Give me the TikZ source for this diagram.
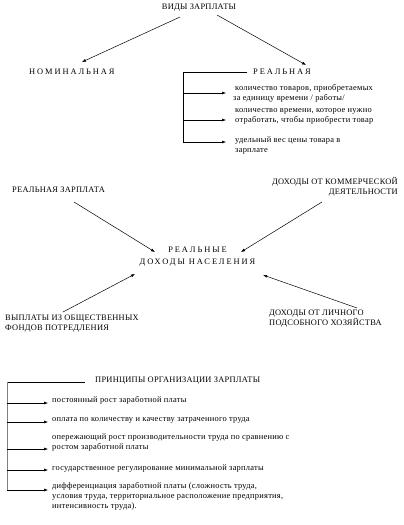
\documentclass[tikz,border=0pt]{standalone}
\usepackage{fontspec}
\setmainfont{Liberation Serif}
\newfontfamily\spaced[LetterSpace=23]{Liberation Serif}
\newfontfamily\lsp[LetterSpace=3]{Liberation Serif}
\usetikzlibrary{arrows.meta}
\begin{document}
\begin{tikzpicture}[x=1pt,y=-1pt,
  txt/.style={inner sep=0pt,font=\lsp\fontsize{8.4}{10}\selectfont,align=left},
  sp/.style={inner sep=0pt,font=\spaced\fontsize{8.4}{12}\selectfont,align=center},
  conn/.style={line width=0.5pt,-{Latex[length=4pt,width=3pt]}},
  ln/.style={line width=0.5pt}]
\useasboundingbox (0,0) rectangle (404,525);
% top
\node[txt] (vid) at (199,8) {ВИДЫ ЗАРПЛАТЫ};
\node[sp,anchor=west] (nom) at (29,71.5) {НОМИНАЛЬНАЯ};
\node[sp,anchor=west] (real) at (253,71.5) {РЕАЛЬНАЯ};
\coordinate (v1) at (180,17);
\coordinate (v2) at (217,15);
\coordinate (n1) at (82,62);
\coordinate (r1) at (306,65);
\draw[conn] (v1) -- (n1);
\draw[conn] (v2) -- (r1);
\coordinate (b0) at (183,72.5);
\coordinate (b1) at (183,93);
\coordinate (b2) at (183,120);
\coordinate (b3) at (183,142);
\node[txt,anchor=north west] (t1) at (233,84) {\hspace*{2pt}количество товаров, приобретаемых\\за единицу времени / работы/};
\node[txt,anchor=north west] (t2) at (235,108) {количество времени, которое нужно\\отработать, чтобы приобрести товар};
\node[txt,anchor=north west] (t3) at (235,136.5) {удельный вес цены товара в\\зарплате};
\draw[ln] (real.west) ++(-6,1) coordinate (rl) -- (b0) -- (b3);
\draw[conn] (b1) -- ++(43,0) coordinate (e1);
\draw[conn] (b2) -- ++(43,0) coordinate (e2);
\draw[conn] (b3) -- ++(43,0) coordinate (e3);
% middle
\node[txt,anchor=west] (rz) at (12,189.5) {РЕАЛЬНАЯ ЗАРПЛАТА};
\node[txt,anchor=north east,align=right] (dk) at (398,177.5) {ДОХОДЫ ОТ КОММЕРЧЕСКОЙ\\ДЕЯТЕЛЬНОСТИ};
\node[sp,anchor=north] (rd) at (197.5,246.5) {РЕАЛЬНЫЕ\\ДОХОДЫ НАСЕЛЕНИЯ};
\node[txt,anchor=north west] (vy) at (5,315) {ВЫПЛАТЫ ИЗ ОБЩЕСТВЕННЫХ\\ФОНДОВ ПОТРЕДЛЕНИЯ};
\node[txt,anchor=north west] (dl) at (269,310) {ДОХОДЫ ОТ ЛИЧНОГО\\ПОДСОБНОГО ХОЗЯЙСТВА};
\coordinate (m1) at (74,202);
\coordinate (m2) at (155,252);
\coordinate (m3) at (322,202);
\coordinate (m4) at (241,252);
\coordinate (m5) at (63,312);
\coordinate (m6) at (135,274);
\coordinate (m7) at (357,308);
\coordinate (m8) at (263,275);
\draw[conn] (m1) -- (m2);
\draw[conn] (m3) -- (m4);
\draw[conn] (m5) -- (m6);
\draw[conn] (m7) -- (m8);
% bottom
\node[txt,anchor=west] (pr) at (95,381) {ПРИНЦИПЫ ОРГАНИЗАЦИИ ЗАРПЛАТЫ};
\node[txt,anchor=west] (p1) at (52,400.5) {постоянный рост заработной платы};
\node[txt,anchor=west] (p2) at (52,420) {оплата по количеству и качеству затраченного труда};
\node[txt,anchor=north west] (p3) at (52,433.5) {опережающий рост производительности труда по сравнению с\\ростом заработной платы};
\node[txt,anchor=west] (p4) at (52,468.5) {государственное регулирование минимальной зарплаты};
\node[txt,anchor=north west] (p5) at (52,482.5) {дифференциация заработной платы (сложность труда,\\условия труда, территориальное расположение предприятия,\\интенсивность труда).};
\coordinate (q0) at (7,382);
\coordinate (q1) at (7,403);
\coordinate (q2) at (7,422);
\coordinate (q3) at (7,449);
\coordinate (q4) at (7,470);
\coordinate (q5) at (7,490);
\draw[ln] (85,382) coordinate (qt) -- (q0) -- (q5);
\draw[line width=0.8pt,gray] (q0) -- (q5);
\draw[conn] (q1) -- ++(41,0) coordinate (f1);
\draw[conn] (q2) -- ++(41,0) coordinate (f2);
\draw[conn] (q3) -- ++(41,0) coordinate (f3);
\draw[conn] (q4) -- ++(41,0) coordinate (f4);
\draw[conn] (q5) -- ++(41,0) coordinate (f5);
\end{tikzpicture}
\end{document}
